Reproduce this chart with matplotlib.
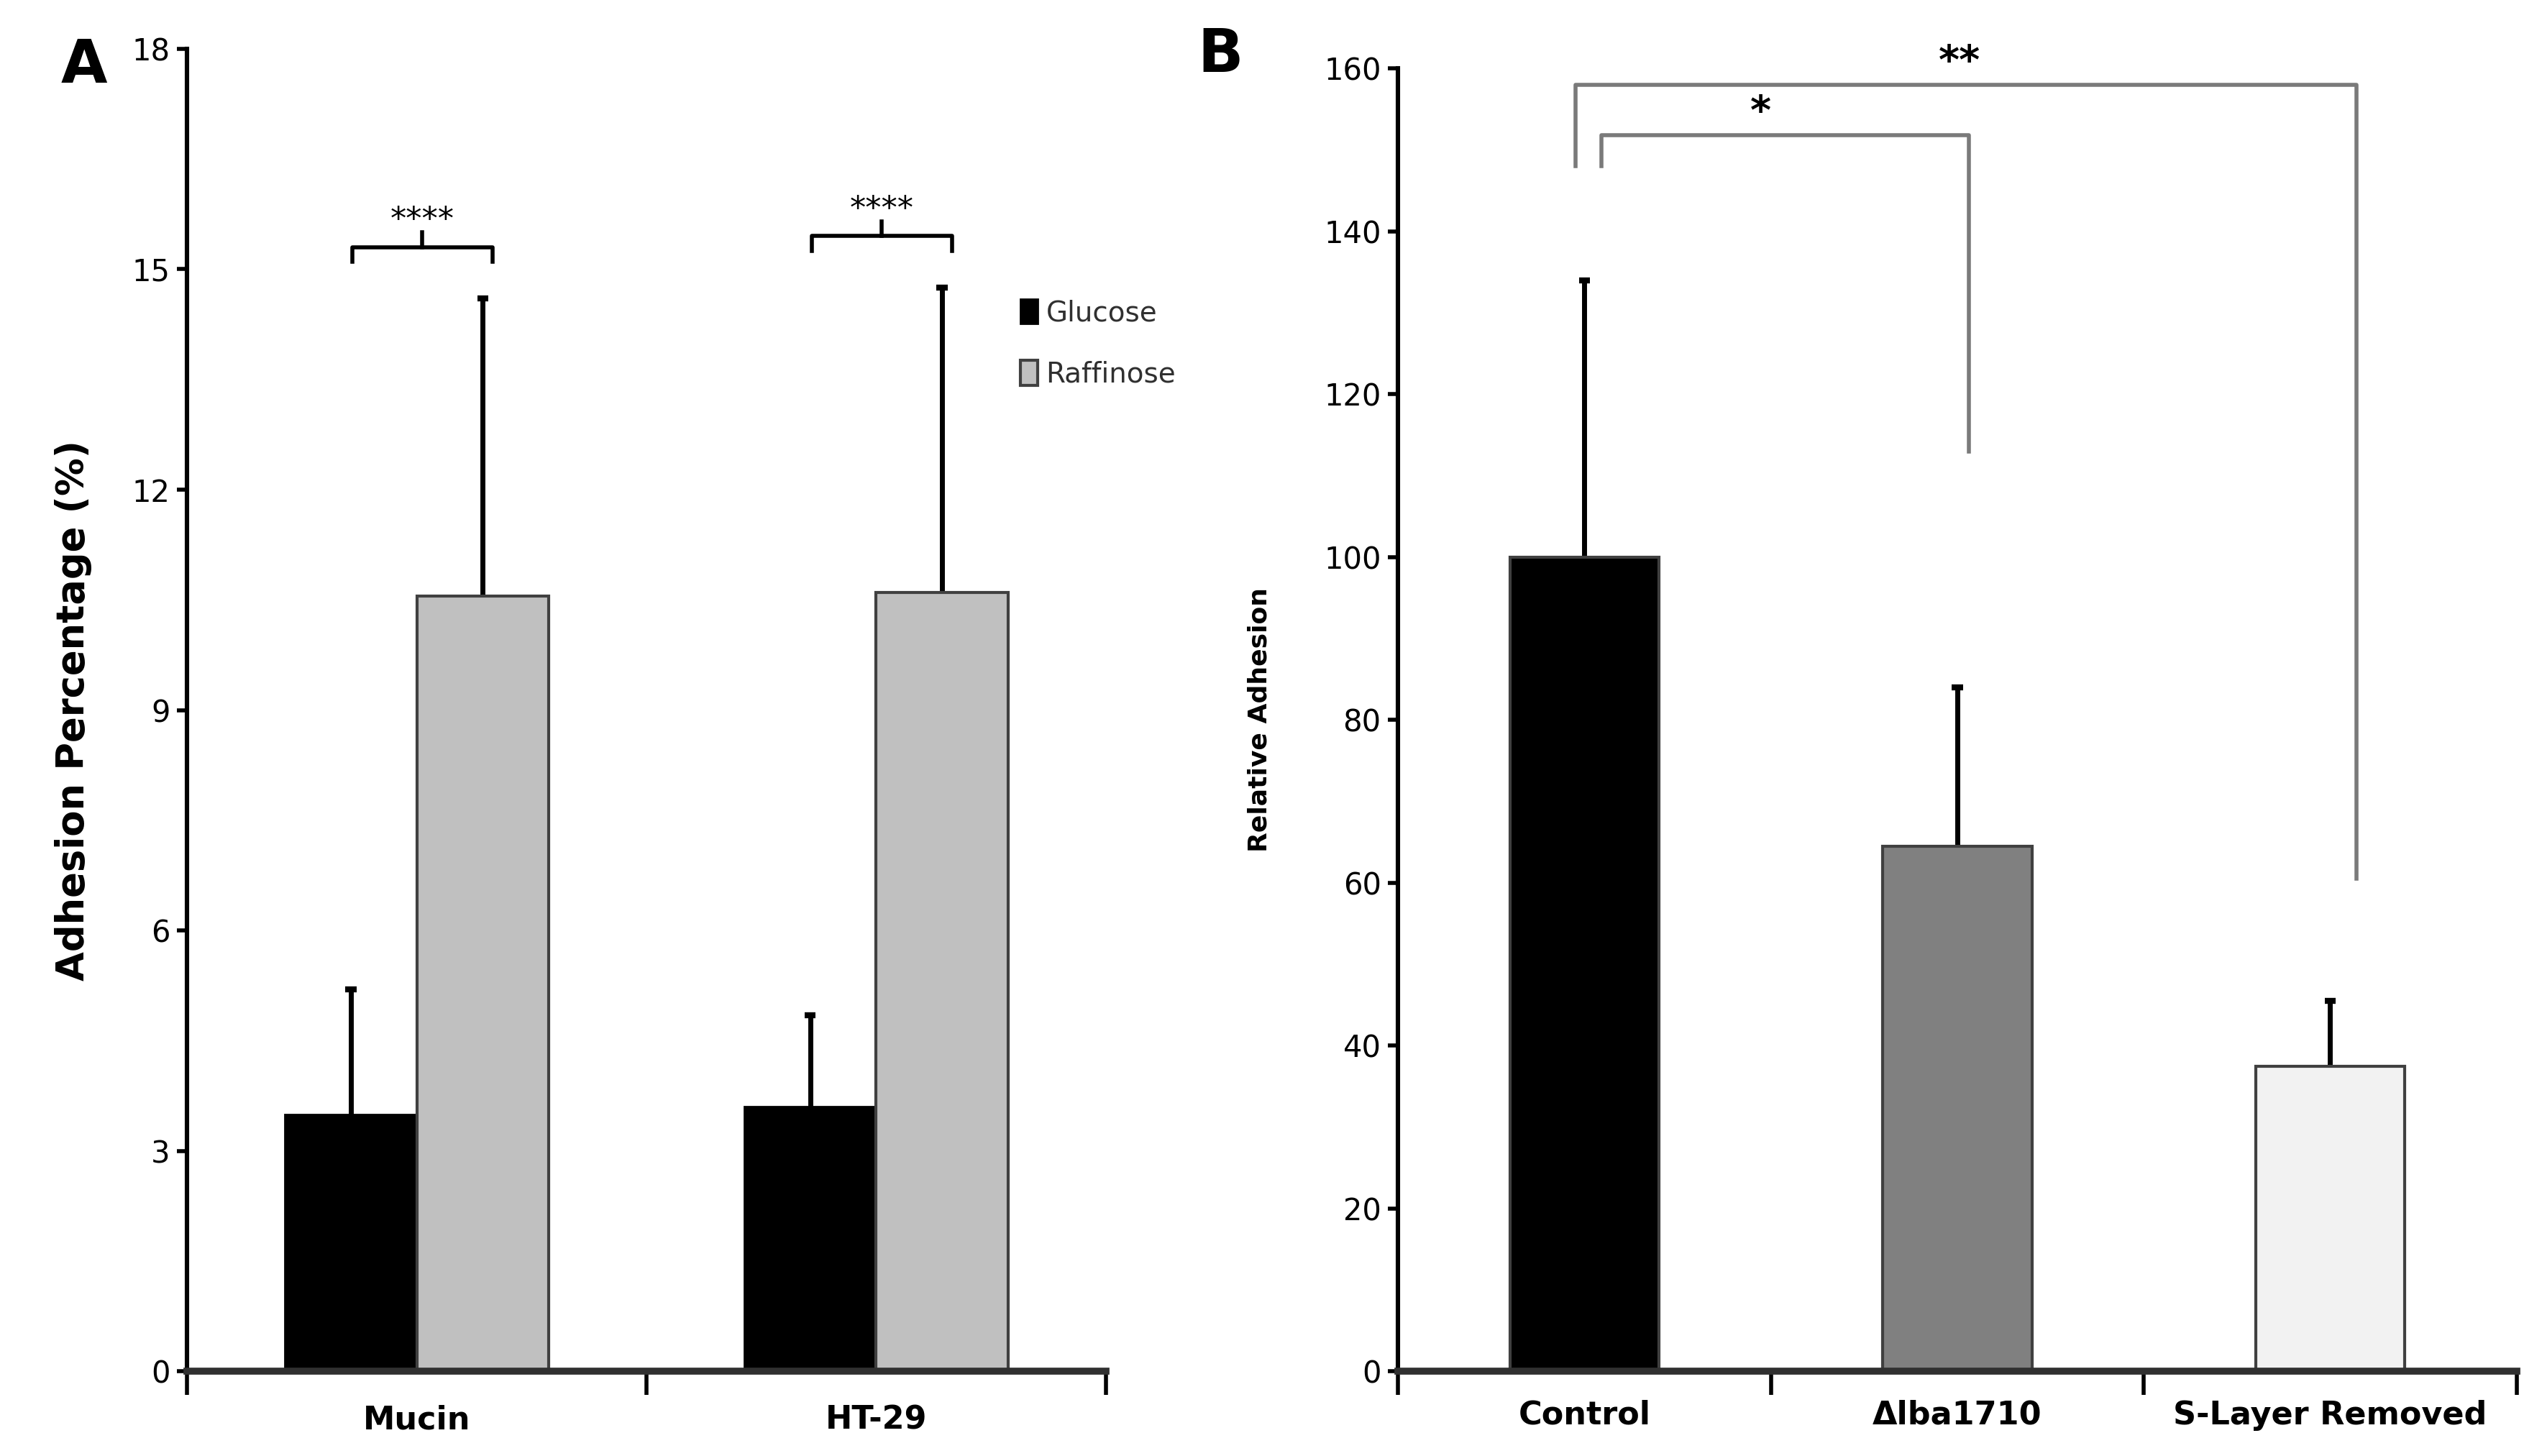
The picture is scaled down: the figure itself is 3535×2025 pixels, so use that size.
import matplotlib
matplotlib.use("Agg")
import matplotlib.pyplot as plt
import numpy as np

# panel A data
groups_a = ["Mucin", "HT-29"]
sugars = ["Glucose", "Raffinose"]
glucose_mean = [3.5, 3.6]
glucose_top = [5.2, 4.85]
raffinose_mean = [10.55, 10.6]
raffinose_top = [14.6, 14.75]
yticks_a = [0, 3, 6, 9, 12, 15, 18]

# panel B data
groups_b = ["Control", "\u0394lba1710", "S-Layer Removed"]
rel_mean = [100, 64.5, 37.5]
rel_top = [134, 84, 45.5]
yticks_b = [0, 20, 40, 60, 80, 100, 120, 140, 160]

narrow = ["Liberation Sans Narrow", "DejaVu Sans Condensed", "DejaVu Sans"]

fig = plt.figure(figsize=(17.675, 10.125), dpi=200)
axA = fig.add_axes([0.0736, 0.0581, 0.3614, 0.9084])
axB = fig.add_axes([0.550, 0.0581, 0.440, 0.8949])

def style(ax):
    for s in ["top", "right"]:
        ax.spines[s].set_visible(False)
    ax.spines["left"].set_linewidth(2.2)
    ax.spines["bottom"].set_linewidth(3.5)
    ax.spines["bottom"].set_color("#303030")
    ax.tick_params(axis="y", direction="out", length=5, width=2, labelsize=15)
    ax.tick_params(axis="x", direction="out", length=12, width=2, labelbottom=False)
    for lab in ax.get_yticklabels():
        lab.set_family(narrow)

# ---- panel A ----
xa = np.arange(len(groups_a)) + 0.5
w = 0.287
axA.bar(xa - w / 2, glucose_mean, w, color="black", edgecolor="black", lw=1, label=sugars[0], zorder=2)
axA.bar(xa + w / 2, raffinose_mean, w, color="#c0c0c0", edgecolor="#404040", lw=1.5, label=sugars[1], zorder=2)
axA.vlines(xa - w / 2, glucose_mean, glucose_top, color="black", lw=2.5, zorder=1)
axA.hlines(glucose_top, xa - w / 2 - 0.012, xa - w / 2 + 0.012, color="black", lw=3)
axA.vlines(xa + w / 2, raffinose_mean, raffinose_top, color="black", lw=2.5, zorder=1)
axA.hlines(raffinose_top, xa + w / 2 - 0.012, xa + w / 2 + 0.012, color="black", lw=3)
axA.set_xlim(0, 2)
axA.set_ylim(0, 18)
axA.set_yticks(yticks_a)
axA.set_xticks([0, 1, 2])
style(axA)
for x, g in zip(xa, groups_a):
    axA.text(x, -0.45, g, ha="center", va="top", fontsize=16, fontweight="bold", family=narrow)
axA.set_ylabel("Adhesion Percentage (%)", fontsize=19, fontweight="bold", labelpad=20)

# significance brackets A
for x, yb in zip(xa, [15.3, 15.45]):
    l, r = x - 0.14, x + 0.165
    axA.plot([l, l, r, r], [yb - 0.2, yb, yb, yb - 0.2], color="black", lw=2)
    axA.plot([x + 0.012, x + 0.012], [yb, yb + 0.2], color="black", lw=2)
    axA.text(x + 0.012, yb + 0.15, "****", ha="center", va="bottom", fontsize=16, family=narrow)

leg = axA.legend(loc="upper left", bbox_to_anchor=(0.88, 0.83), frameon=False,
                 fontsize=14, handlelength=0.6, handleheight=1.0, handletextpad=0.3, labelspacing=1.2)
for t in leg.get_texts():
    t.set_family(narrow)
    t.set_color("#303030")

# ---- panel B ----
xb = np.arange(len(groups_b)) + 0.5
wb = 0.40
colors_b = ["black", "#808080", "#f2f2f2"]
axB.bar(xb, rel_mean, wb, color=colors_b, edgecolor="#404040", lw=1.5, zorder=2)
axB.vlines(xb, rel_mean, rel_top, color="black", lw=2.5, zorder=1)
axB.hlines(rel_top, xb - 0.015, xb + 0.015, color="black", lw=3)
axB.set_xlim(0, 3)
axB.set_ylim(0, 160)
axB.set_yticks(yticks_b)
axB.set_xticks([0, 1, 2, 3])
style(axB)
for x, g in zip(xb, groups_b):
    axB.text(x, -3.5, g, ha="center", va="top", fontsize=16, fontweight="bold", family=narrow)
axB.set_ylabel("Relative Adhesion", fontsize=13, fontweight="bold", family=narrow, labelpad=26)

# significance brackets B
gray = "#7a7a7a"
axB.plot([xb[0] - 0.025, xb[0] - 0.025, xb[2] + 0.07, xb[2] + 0.07], [148, 158, 158, 60.5], color=gray, lw=2)
axB.text(1.505, 158.3, "**", ha="center", va="bottom", fontsize=20, fontweight="bold")
axB.plot([xb[0] + 0.045, xb[0] + 0.045, xb[1] + 0.03, xb[1] + 0.03], [148, 151.8, 151.8, 113], color=gray, lw=2)
axB.text(0.972, 152.2, "*", ha="center", va="bottom", fontsize=20, fontweight="bold")

# panel letters
fig.text(0.024, 0.955, "A", fontsize=30, fontweight="bold", ha="left", va="center")
fig.text(0.471, 0.962, "B", fontsize=30, fontweight="bold", ha="left", va="center")

fig.savefig("out.png", dpi=200, facecolor="white")
